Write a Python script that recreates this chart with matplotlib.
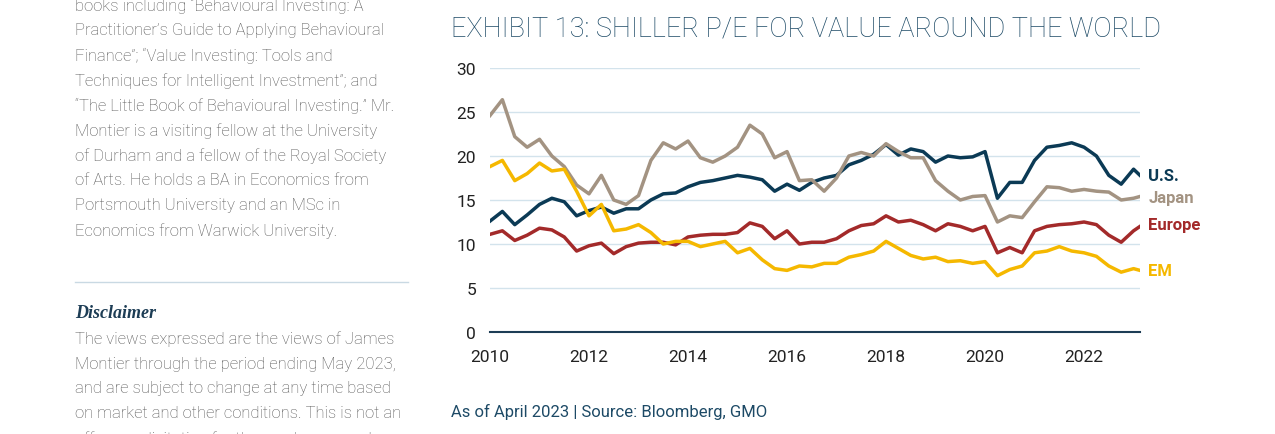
import matplotlib.pyplot as plt
import numpy as np

W, H = 1275, 435
dates = 2010 + np.arange(53) * 0.25
dates = np.append(dates, 2023.13)

us = [12.6, 13.7, 12.2, 13.3, 14.5, 15.2, 14.8, 13.2, 13.8, 14.2, 13.5, 14.0, 14.0, 15.0, 15.7, 15.8,
      16.5, 17.0, 17.2, 17.5, 17.8, 17.6, 17.3, 16.0, 16.8, 16.1, 17.0, 17.5, 17.8, 19.0, 19.5, 20.2,
      21.3, 20.1, 20.8, 20.5, 19.3, 20.0, 19.8, 19.9, 20.5, 15.2, 17.0, 17.0, 19.5, 21.0, 21.2, 21.5,
      21.0, 20.0, 17.8, 16.8, 18.5, 17.8]
japan = [24.6, 26.4, 22.2, 21.0, 21.9, 20.0, 18.8, 16.7, 15.7, 17.8, 15.0, 14.5, 15.5, 19.5, 21.5, 20.8,
         21.7, 19.8, 19.3, 20.0, 21.0, 23.5, 22.5, 19.8, 20.5, 17.2, 17.3, 16.0, 17.5, 20.0, 20.4, 20.0,
         21.4, 20.5, 19.8, 19.8, 17.2, 16.0, 15.0, 15.4, 15.5, 12.5, 13.2, 13.0, 14.8, 16.5, 16.4, 16.0,
         16.2, 16.0, 15.9, 15.0, 15.2, 15.4]
europe = [11.1, 11.5, 10.4, 11.0, 11.8, 11.6, 10.8, 9.2, 9.8, 10.1, 8.9, 9.7, 10.1, 10.2, 10.2, 9.9,
          10.8, 11.0, 11.1, 11.1, 11.3, 12.4, 12.0, 10.6, 11.5, 10.0, 10.2, 10.2, 10.6, 11.5, 12.1, 12.3,
          13.2, 12.5, 12.7, 12.2, 11.5, 12.3, 12.0, 11.5, 12.0, 9.0, 9.6, 9.0, 11.5, 12.0, 12.2, 12.3,
          12.5, 12.2, 11.0, 10.2, 11.5, 12.0]
em = [18.8, 19.5, 17.2, 18.0, 19.2, 18.3, 18.5, 16.0, 13.2, 14.5, 11.5, 11.7, 12.2, 11.3, 10.0, 10.3,
      10.3, 9.7, 10.0, 10.3, 9.0, 9.5, 8.2, 7.2, 7.0, 7.5, 7.4, 7.8, 7.8, 8.5, 8.8, 9.2,
      10.3, 9.5, 8.7, 8.3, 8.5, 8.0, 8.1, 7.8, 8.0, 6.4, 7.1, 7.5, 9.0, 9.2, 9.7, 9.2,
      9.0, 8.6, 7.5, 6.8, 7.2, 7.0]

series = [("U.S.", us, "#0b3a55"), ("Japan", japan, "#a39382"),
          ("Europe", europe, "#a32a2a"), ("EM", em, "#f5b800")]

plt.rcParams['font.family'] = ['Roboto', 'DejaVu Sans']
fig = plt.figure(figsize=(W / 100, H / 100), dpi=100)

def px(x, y):
    return x / W, 1 - y / H

ax = fig.add_axes([490 / W, 1 - 333 / H, (1140 - 490) / W, (333 - 69) / H])
for name, vals, col in series:
    ax.plot(dates, vals, color=col, lw=2.5)
ax.set_xlim(2010, 2023.13)
ax.set_ylim(0, 30)
ax.set_yticks(range(0, 31, 5))
ax.set_xticks(range(2010, 2023, 2))
ax.grid(axis='y', color='#d3e3ec', lw=1)
ax.set_axisbelow(True)
for s in ['top', 'right', 'left']:
    ax.spines[s].set_visible(False)
ax.spines['bottom'].set_color('#1d3d55')
ax.spines['bottom'].set_linewidth(1.5)
ax.tick_params(length=0, labelsize=12.5, colors='#222222')
ax.tick_params(axis='y', pad=10)
ax.tick_params(axis='x', pad=12)

labels_y = [17.8, 15.3, 12.2, 7.0]
for (name, vals, col), ly in zip(series, labels_y):
    ax.text(2023.3, ly, name, color=col, fontsize=12, fontweight='bold',
            va='center', ha='left', clip_on=False)

fig.text(*px(451, 29), "EXHIBIT 13: SHILLER P/E FOR VALUE AROUND THE WORLD",
         color='#1d4a66', fontsize=19.5, fontweight='light', va='center', ha='left')
fig.text(*px(451, 412), "As of April 2023 | Source: Bloomberg, GMO",
         color='#1d4a66', fontsize=12, va='center', ha='left')

top_lines = ["books including “Behavioural Investing: A",
             "Practitioner’s Guide to Applying Behavioural",
             "Finance”; “Value Investing: Tools and",
             "Techniques for Intelligent Investment”; and",
             "“The Little Book of Behavioural Investing.” Mr.",
             "Montier is a visiting fellow at the University",
             "of Durham and a fellow of the Royal Society",
             "of Arts. He holds a BA in Economics from",
             "Portsmouth University and an MSc in",
             "Economics from Warwick University."]
for i, t in enumerate(top_lines):
    fig.text(*px(75, 6 + 25 * i), t, color='#555555', fontsize=12,
             fontweight='light', va='center', ha='left')

fig.add_artist(plt.Line2D([75 / W, 408 / W], [1 - 283 / H] * 2, color='#c9d9e3', lw=1))
fig.text(*px(75, 313), "Disclaimer", color='#1d3d55', fontsize=13, fontweight='bold',
         style='italic', family='Liberation Serif', va='center', ha='left')

bottom_lines = ["The views expressed are the views of James",
                "Montier through the period ending May 2023,",
                "and are subject to change at any time based",
                "on market and other conditions. This is not an",
                "offer or solicitation for the purchase or sale"]
for i, t in enumerate(bottom_lines):
    fig.text(*px(75, 339 + 25 * i), t, color='#555555', fontsize=12,
             fontweight='light', va='center', ha='left')

fig.savefig("out.png", dpi=100)
